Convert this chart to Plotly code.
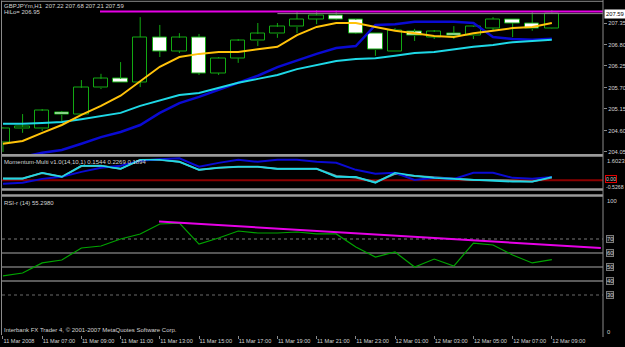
import plotly.graph_objects as go

# ---------------- data ----------------
bars = list(range(29))
time_ticks = [0, 2, 4, 6, 8, 10, 12, 14, 16, 18, 20, 22, 24, 26, 28]
time_labels = ["11 Mar 2008", "11 Mar 07:00", "11 Mar 09:00", "11 Mar 11:00", "11 Mar 13:00",
               "11 Mar 15:00", "11 Mar 17:00", "11 Mar 19:00", "11 Mar 21:00", "11 Mar 23:00",
               "12 Mar 01:00", "12 Mar 03:00", "12 Mar 05:00", "12 Mar 07:00", "12 Mar 09:00"]

opens = [204.28, 204.64, 204.64, 205.07, 205.02, 205.69, 205.92, 205.84, 206.99, 206.63,
         206.99, 206.07, 206.45, 206.89, 207.07, 207.25, 207.45, 207.55, 207.43, 207.09,
         206.61, 207.12, 206.99, 207.09, 207.02, 207.22, 207.45, 207.35, 207.22]
highs = [204.68, 205.02, 205.15, 205.10, 205.89, 206.05, 206.35, 207.50, 207.30, 207.09,
         207.07, 206.48, 206.94, 207.35, 207.35, 207.63, 207.68, 207.68, 207.45, 207.09,
         207.22, 207.20, 207.17, 207.27, 207.27, 207.50, 207.45, 207.63, 207.68]
lows = [204.05, 204.54, 204.59, 204.84, 205.02, 205.66, 205.84, 205.71, 206.48, 206.58,
        206.02, 206.02, 206.33, 206.76, 206.97, 207.09, 207.32, 207.43, 207.07, 206.51,
        206.61, 206.89, 206.94, 206.94, 206.94, 207.15, 206.99, 207.15, 207.21]
closes = [204.66, 204.69, 205.10, 205.00, 205.69, 205.92, 205.84, 206.99, 206.63, 206.97,
          206.07, 206.45, 206.89, 207.07, 207.25, 207.45, 207.55, 207.45, 207.09, 206.66,
          207.15, 207.02, 207.12, 207.02, 207.25, 207.45, 207.35, 207.20, 207.59]

ma_yellow = [204.26, 204.33, 204.54, 204.74, 205.00, 205.23, 205.49, 205.87, 206.23, 206.48,
             206.56, 206.61, 206.61, 206.68, 206.74, 207.04, 207.25, 207.35, 207.35, 207.25,
             207.15, 207.09, 207.02, 206.99, 207.09, 207.15, 207.22, 207.25, 207.35]
ma_cyan = [204.77, 204.77, 204.79, 204.82, 204.89, 204.97, 205.05, 205.23, 205.38, 205.51,
           205.56, 205.69, 205.82, 205.92, 206.02, 206.17, 206.28, 206.38, 206.43, 206.45,
           206.51, 206.58, 206.61, 206.68, 206.74, 206.79, 206.86, 206.89, 206.92]
hilo_blue = [203.85, 203.92, 204.03, 204.10, 204.26, 204.43, 204.56, 204.74, 205.05, 205.30,
             205.46, 205.64, 205.82, 206.00, 206.22, 206.40, 206.56, 206.71, 206.76, 207.30,
             207.32, 207.38, 207.38, 207.38, 207.35, 206.99, 206.94, 206.92, 206.95]

resistance_level = 207.645
resistance_x = [4.95, 30.61]
bid_price = 207.59
bid_x = [14.0, 30.61]
price_ticks = [207.35, 206.80, 206.25, 205.70, 205.15, 204.60, 204.05]

mom_blue = [-0.24, -0.17, 0.10, 0.24, 0.58, 0.86, 1.00, 1.34, 1.44, 1.51,
            0.93, 1.20, 1.41, 1.27, 1.41, 1.41, 1.27, 1.20, 0.72, 0.45,
            0.52, 0.03, 0.17, 0.10, 0.52, 0.52, 0.17, 0.10, 0.23]
mom_cyan = [0.12, 0.12, 0.52, 0.24, 1.00, 1.00, 0.79, 1.41, 1.41, 1.27,
            0.72, 0.86, 0.93, 0.93, 0.79, 0.79, 0.79, 0.24, 0.24, -0.17,
            0.52, 0.31, 0.17, 0.10, 0.03, -0.03, -0.10, -0.10, 0.23]
mom_gray = [0.12, 0.12, 0.50, 0.24, 0.98, 1.00, 0.79, 1.40, 1.41, 1.27,
            0.72, 0.86, 0.93, 0.93, 0.79, 0.79, 0.79, 0.30, 0.20, -0.12,
            0.45, 0.30, 0.20, 0.10, 0.03, 0.03, -0.05, -0.08, 0.19]
mom_zero = 0.0
mom_max, mom_min = 1.6023, -0.5268

rsi = [43.6, 45.7, 52.9, 55.0, 63.6, 65.0, 70.0, 73.6, 80.7, 81.4,
       66.4, 70.7, 75.7, 74.3, 74.3, 75.0, 73.6, 73.6, 64.3, 57.1,
       60.7, 50.0, 55.7, 50.7, 67.1, 65.7, 58.6, 52.9, 55.3]
rsi_levels = [70, 60, 50, 40, 30]
rsi_trend_x = [7.96, 30.5]
rsi_trend_y = [82.5, 63.6]

# ---------------- styling ----------------
W, H = 625, 347
ML, MR, MT, MB = 2, 22, 0, 12
PW, PH = W - ML - MR, H - MT - MB
XR = [-0.05, 30.61]
GREEN = "#12a812"
TXT = "#d4d4d4"
GRAY = "#8a8a8a"
FONT = "Liberation Sans"


def pyp(py):
    return (PH - py) / PH


def pxp(px):
    return (px - ML) / PW


fig = go.Figure()

# candles
body_base = [min(o, c) for o, c in zip(opens, closes)]
body_h = [abs(c - o) for o, c in zip(opens, closes)]
fills = ["#000000" if c >= o else "#ffffff" for o, c in zip(opens, closes)]
fig.add_trace(go.Bar(x=bars, y=body_h, base=body_base, width=0.74,
                     marker=dict(color=fills, line=dict(color=GREEN, width=1)),
                     xaxis="x", yaxis="y", showlegend=False))
wx, wy = [], []
for i, o, h, l, c in zip(bars, opens, highs, lows, closes):
    wx += [i, i, None, i, i, None]
    wy += [h, max(o, c), None, min(o, c), l, None]
fig.add_trace(go.Scatter(x=wx, y=wy, mode="lines", line=dict(color=GREEN, width=1),
                         xaxis="x", yaxis="y", showlegend=False))

fig.add_trace(go.Scatter(x=bars, y=hilo_blue, mode="lines", line=dict(color="#0a0ad2", width=2.5),
                         xaxis="x", yaxis="y", showlegend=False))
fig.add_trace(go.Scatter(x=bars, y=ma_cyan, mode="lines", line=dict(color="#1ed8e6", width=2),
                         xaxis="x", yaxis="y", showlegend=False))
fig.add_trace(go.Scatter(x=bars, y=ma_yellow, mode="lines", line=dict(color="#ffc20a", width=2),
                         xaxis="x", yaxis="y", showlegend=False))
fig.add_trace(go.Scatter(x=resistance_x, y=[resistance_level] * 2, mode="lines",
                         line=dict(color="#e600e6", width=2), xaxis="x", yaxis="y", showlegend=False))
fig.add_trace(go.Scatter(x=bid_x, y=[bid_price] * 2, mode="lines",
                         line=dict(color="#8c8c8c", width=1), xaxis="x", yaxis="y", showlegend=False))

# momentum pane
fig.add_trace(go.Scatter(x=XR, y=[mom_zero] * 2, mode="lines", line=dict(color="#8a0000", width=2),
                         xaxis="x2", yaxis="y2", showlegend=False))
fig.add_trace(go.Scatter(x=bars, y=mom_gray, mode="lines", line=dict(color="#6a9c9c", width=2),
                         xaxis="x2", yaxis="y2", showlegend=False))
fig.add_trace(go.Scatter(x=bars, y=mom_blue, mode="lines", line=dict(color="#0a0ad2", width=2),
                         xaxis="x2", yaxis="y2", showlegend=False))
fig.add_trace(go.Scatter(x=bars, y=mom_cyan, mode="lines", line=dict(color="#1ed8e6", width=1.6),
                         xaxis="x2", yaxis="y2", showlegend=False))

# RSI pane
lvl_style = {70: ("#7a7a7a", 1, "dot"), 60: ("#a8a8a8", 1, "solid"), 50: ("#a8a8a8", 1, "solid"),
             40: ("#5a5a5a", 2, "solid"), 30: ("#6a6a6a", 1, "dot")}
for lv in rsi_levels:
    c, w, d = lvl_style[lv]
    fig.add_trace(go.Scatter(x=XR, y=[lv, lv], mode="lines", line=dict(color=c, width=w, dash=d),
                             xaxis="x3", yaxis="y3", showlegend=False))
fig.add_trace(go.Scatter(x=bars, y=rsi, mode="lines", line=dict(color="#00a400", width=1.2),
                         xaxis="x3", yaxis="y3", showlegend=False))
fig.add_trace(go.Scatter(x=rsi_trend_x, y=rsi_trend_y, mode="lines", line=dict(color="#e600e6", width=2),
                         xaxis="x3", yaxis="y3", showlegend=False))

# ---------------- layout ----------------
ax_common = dict(range=XR, showgrid=False, zeroline=False, showline=False, fixedrange=True)
dom_main = [pyp(155.5), pyp(1.5)]
dom_mom = [pyp(188), pyp(157)]
dom_rsi = [0, pyp(197)]
rsi_bottom = (337 - PH) / 1.4

fig.update_layout(
    width=W, height=H, margin=dict(l=ML, r=MR, t=MT, b=MB),
    paper_bgcolor="#000000", plot_bgcolor="#000000",
    showlegend=False, bargap=0,
    font=dict(family=FONT, size=6, color=TXT),
    xaxis=dict(**ax_common, domain=[0, 1], anchor="y", showticklabels=False, ticks=""),
    xaxis2=dict(**ax_common, domain=[0, 1], anchor="y2", showticklabels=False, ticks=""),
    xaxis3=dict(**ax_common, domain=[0, 1], anchor="y3", tickmode="array", tickvals=time_ticks,
                ticktext=time_labels, ticks="outside", ticklen=3, tickcolor=GRAY, tickangle=0,
                ticklabelposition="outside right", tickfont=dict(size=5.6, color=TXT, family=FONT)),
    yaxis=dict(domain=dom_main, range=[203.96, 207.90], side="right", anchor="x",
               tickmode="array", tickvals=price_ticks, ticktext=[f"{v:.2f}" for v in price_ticks],
               ticks="outside", ticklen=3, tickcolor=GRAY, showgrid=False, zeroline=False,
               tickfont=dict(size=5.8, color=TXT, family=FONT), fixedrange=True),
    yaxis2=dict(domain=dom_mom, range=[mom_min, mom_max], side="right", anchor="x2",
                showticklabels=False, ticks="", showgrid=False, zeroline=False, fixedrange=True),
    yaxis3=dict(domain=dom_rsi, range=[rsi_bottom, 100], side="right", anchor="x3",
                showticklabels=False, ticks="", showgrid=False, zeroline=False, fixedrange=True),
)

shapes = []
# pane borders / separators
shapes.append(dict(type="line", xref="paper", yref="paper", x0=0, x1=1, y0=pyp(1.3), y1=pyp(1.3),
                   line=dict(color=GRAY, width=1)))
for top, bot in [(154, 156.7), (188.3, 190.7), (194.3, 196.7)]:
    shapes.append(dict(type="rect", xref="paper", yref="paper", x0=0, x1=1, y0=pyp(bot), y1=pyp(top),
                       fillcolor="#9a9a9a", line=dict(width=0)))
shapes.append(dict(type="line", xref="paper", yref="paper", x0=pxp(1.5), x1=pxp(1.5), y0=pyp(335), y1=pyp(0.5),
                   line=dict(color=GRAY, width=1)))
shapes.append(dict(type="line", xref="paper", yref="paper", x0=1, x1=1, y0=pyp(337), y1=pyp(0),
                   line=dict(color=GRAY, width=1)))
fig.update_layout(shapes=shapes)


def ann(text, px, py, **kw):
    d = dict(text=text, xref="paper", yref="paper", x=pxp(px), y=pyp(py), xanchor="left",
             yanchor="middle", showarrow=False, font=dict(size=6, color=TXT, family=FONT), borderpad=0)
    d.update(kw)
    return d


anns = [
    ann("GBPJPYm,H1  207.22 207.68 207.21 207.59", 3, 5.5),
    ann("HiLo= 206.95", 3, 12.5),
    ann("Momentum-Multi v1.0(14,10,1) 0.1544 0.2269 0.1894", 3, 162.5),
    ann("RSI-r (14) 55.2980", 3, 203),
    ann("Interbank FX Trader 4, © 2001-2007 MetaQuotes Software Corp.", 3, 330),
    # right-side labels
    dict(text="207.59", xref="paper", yref="y", x=1, y=bid_price, xanchor="left", yanchor="middle",
         showarrow=False, bgcolor="#ffffff", font=dict(size=5.8, color="#000000", family=FONT),
         borderpad=1, xshift=1),
    ann("1.6023", 606, 160.5, font=dict(size=5.8, color=TXT, family=FONT)),
    ann("-0.5268", 605, 186.8, font=dict(size=5.2, color=TXT, family=FONT)),
    ann("0.00", 605, 179.2, font=dict(size=5.2, color=TXT, family=FONT), bordercolor="#e00000",
        borderwidth=1, borderpad=0),
    ann("100", 606, 201, font=dict(size=5.8, color=TXT, family=FONT)),
    ann("0", 606, 332, font=dict(size=5.8, color=TXT, family=FONT)),
]
for lv in rsi_levels:
    anns.append(dict(text=str(lv), xref="paper", yref="y3", x=1, y=lv, xanchor="left", yanchor="middle",
                     showarrow=False, xshift=3, bordercolor="#7a7a7a", borderwidth=1, borderpad=0,
                     bgcolor="#1a1a1a", font=dict(size=5.8, color=TXT, family=FONT)))
fig.update_layout(annotations=anns)

fig.write_html("out.html")
